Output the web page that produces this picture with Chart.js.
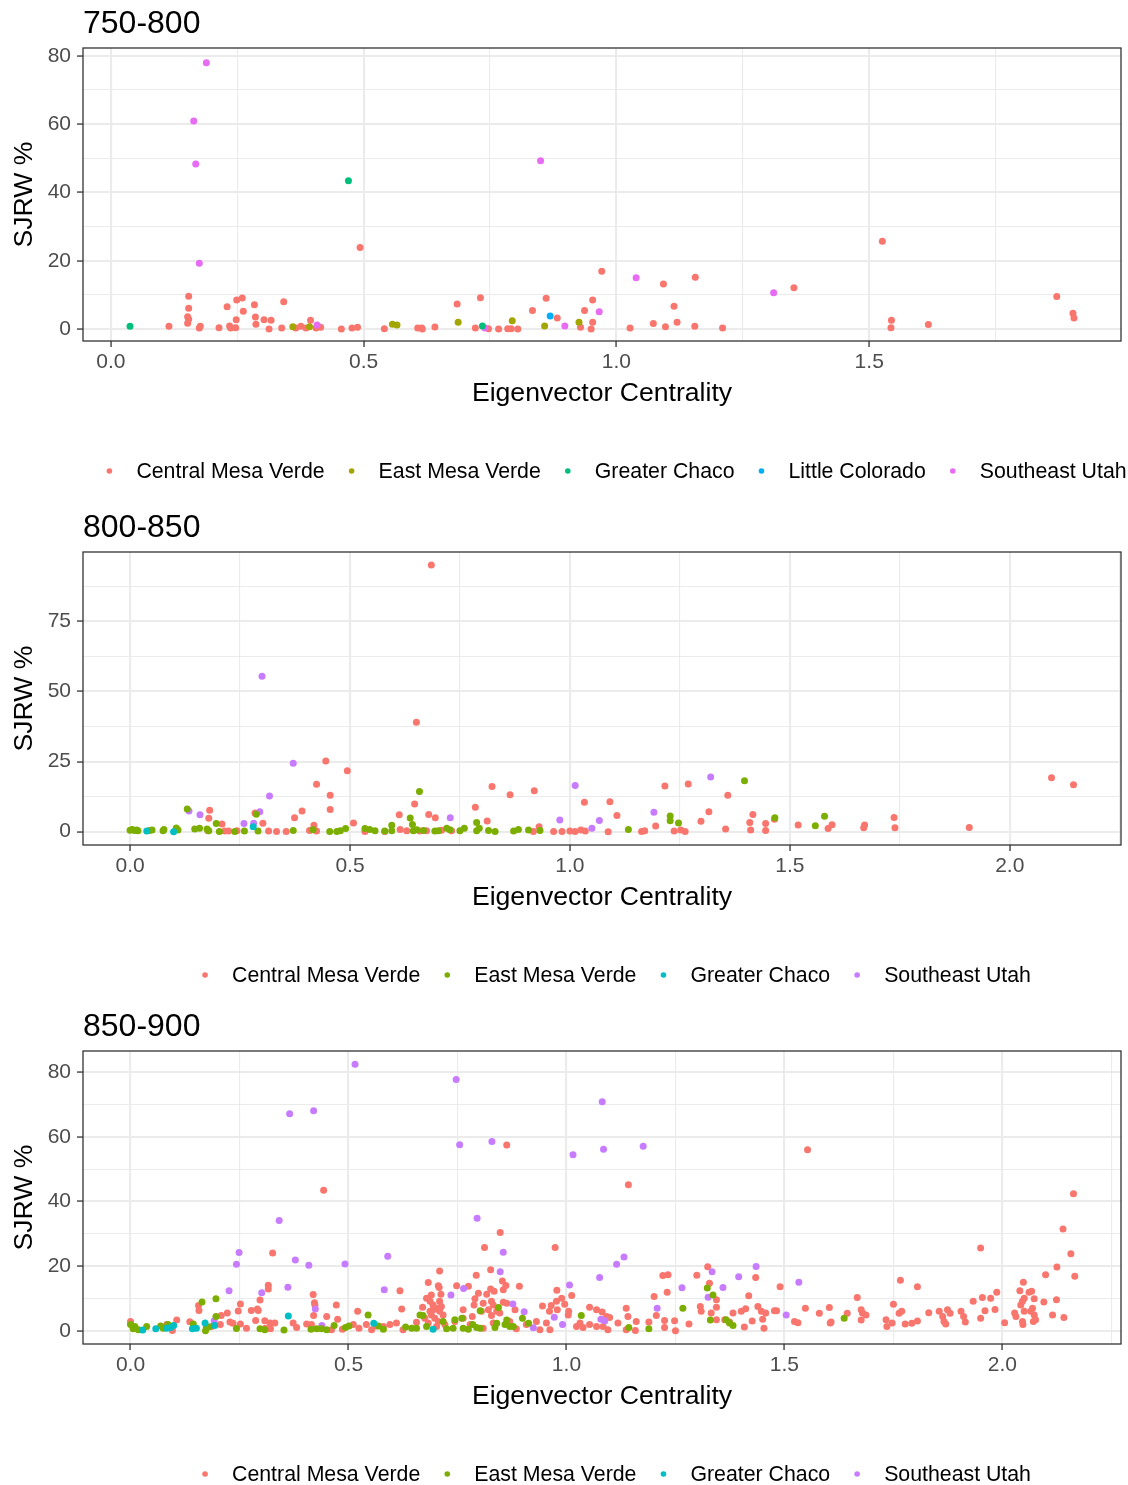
<!DOCTYPE html>
<html>
<head>
<meta charset="UTF-8">
<title>SJRW % by Eigenvector Centrality</title>
<script src="https://cdn.jsdelivr.net/npm/chart.js"></script>
<style>
body { margin: 0; background: #fff; }
.panel { position: absolute; left: 0; width: 1128px; height: 482px; }
</style>
</head>
<body>
<div class="panel" style="top:0px"><canvas id="c1" width="1128" height="482"></canvas></div>
<div class="panel" style="top:504px"><canvas id="c2" width="1128" height="482"></canvas></div>
<div class="panel" style="top:1003px"><canvas id="c3" width="1128" height="482"></canvas></div>
<script>
// ---- data: [eigenvector centrality, SJRW %] ----

// 750-800
const p1Central = [[0.493,23.9],[0.154,9.6],[0.154,6.1],[0.152,3.6],[0.154,2.9],[0.152,1.7],[0.115,0.8],[0.175,0.3],[0.177,0.8],[0.214,0.4],
  [0.230,6.5],[0.249,8.5],[0.260,9.1],[0.248,2.7],[0.235,0.9],[0.237,0.3],[0.247,0.4],[0.262,5.2],[0.284,7.1],[0.286,3.5],[0.287,1.4],
  [0.303,2.7],[0.317,2.6],[0.313,0.0],[0.342,8.0],[0.338,0.3],[0.366,0.3],[0.376,0.8],[0.386,0.3],[0.395,2.6],[0.406,0.3],[0.415,0.5],
  [0.456,0.0],[0.477,0.3],[0.488,0.5],[0.541,0.1],[0.607,0.3],[0.615,0.3],[0.616,0.0],[0.641,0.6],[0.685,7.3],[0.731,9.2],[0.721,0.3],
  [0.747,0.1],[0.767,0.0],[0.785,0.1],[0.792,0.1],[0.805,0.0],[0.834,5.4],[0.861,9.0],[0.883,3.2],[0.929,0.5],[0.937,5.4],[0.953,8.5],
  [0.953,2.0],[0.950,0.0],[0.971,16.9],[1.093,13.2],[1.156,15.2],[1.114,6.7],[1.027,0.3],[1.073,1.6],[1.097,0.7],[1.120,2.0],[1.155,0.8],
  [1.210,0.3],[1.351,12.1],[1.526,25.7],[1.544,2.6],[1.543,0.4],[1.617,1.3],[1.871,9.5],[1.903,4.6],[1.905,3.2]];
const p1East = [[0.360,0.7],[0.393,0.7],[0.557,1.4],[0.566,1.2],[0.687,2.0],[0.794,2.4],[0.858,0.9],[0.926,2.0]];
const p1Chaco = [[0.038,0.8],[0.470,43.4],[0.735,0.9]];
const p1Little = [[0.869,3.8]];
const p1Utah = [[0.189,78.0],[0.164,60.9],[0.168,48.3],[0.175,19.3],[0.850,49.3],[0.408,1.2],[0.740,0.3],[0.898,0.9],[0.966,5.1],
  [1.039,15.0],[1.311,10.6]];

// 800-850
const p2Central = [[0.685,95.1],[0.651,39.0],[0.445,25.2],[0.494,21.7],[0.424,16.9],[0.455,13.0],[0.455,7.9],[0.391,7.4],[0.374,5.0],
  [0.302,3.0],[0.284,6.7],[0.181,7.6],[0.179,4.8],[0.209,2.7],[0.418,2.3],[0.508,3.1],[0.647,9.9],[0.612,6.0],[0.679,6.1],[0.694,5.0],
  [0.785,8.7],[0.823,16.1],[0.864,13.2],[0.919,14.6],[0.812,3.8],[1.033,10.5],[0.930,1.8],[0.177,0.3],[0.215,0.2],[0.224,0.2],[0.243,0.3],
  [0.315,0.2],[0.333,0.1],[0.355,0.1],[0.408,0.4],[0.424,0.2],[0.534,0.1],[0.579,0.1],[0.614,0.8],[0.629,0.3],[0.659,0.2],[0.674,0.3],
  [0.708,0.5],[0.731,0.3],[0.917,0.1],[0.963,0.1],[0.982,0.1],[1.000,0.2],[1.012,0.1],[1.025,0.6],[1.035,0.2],[1.091,10.7],[1.107,5.8],
  [1.087,0.0],[1.163,0.1],[1.170,0.3],[1.195,2.0],[1.216,16.3],[1.237,0.2],[1.252,0.6],[1.262,0.1],[1.269,17.0],[1.316,7.1],[1.298,3.7],
  [1.359,13.0],[1.354,1.0],[1.416,6.1],[1.409,3.3],[1.411,0.6],[1.445,2.9],[1.445,0.4],[1.465,4.4],[1.519,2.4],[1.587,1.1],[1.596,2.5],
  [1.668,1.4],[1.670,2.4],[1.737,5.1],[1.739,1.4],[1.908,1.5],[2.095,19.2],[2.145,16.7]];
const p2East = [[0.130,8.1],[0.196,2.9],[0.287,6.2],[0.658,14.3],[0.637,4.9],[0.642,2.6],[0.595,2.3],[0.788,3.3],[1.133,0.8],[1.228,5.6],
  [1.228,3.9],[1.247,3.1],[1.397,18.2],[1.466,5.0],[1.558,2.1],[1.579,5.5],[0.000,0.5],[0.005,0.8],[0.010,0.4],[0.015,0.6],[0.018,0.3],
  [0.044,0.4],[0.050,0.6],[0.075,0.3],[0.077,0.8],[0.105,1.3],[0.109,0.6],[0.147,1.0],[0.158,1.2],[0.175,1.0],[0.179,0.3],[0.203,0.1],
  [0.238,0.1],[0.260,0.2],[0.291,0.2],[0.371,0.4],[0.416,0.7],[0.454,0.1],[0.470,0.1],[0.478,0.3],[0.490,1.1],[0.534,1.1],[0.545,0.8],
  [0.557,0.3],[0.579,0.2],[0.595,0.3],[0.644,0.3],[0.652,0.7],[0.667,0.4],[0.693,0.2],[0.701,0.3],[0.720,1.2],[0.727,0.7],[0.750,0.3],
  [0.760,1.2],[0.794,1.2],[0.788,0.3],[0.815,0.4],[0.830,0.1],[0.872,0.2],[0.883,0.8],[0.906,0.6],[0.932,0.4]];
const p2Chaco = [[0.038,0.2],[0.099,0.0],[0.280,1.8]];
const p2Utah = [[0.300,55.4],[0.371,24.4],[0.317,12.7],[0.295,7.1],[0.281,3.0],[0.259,2.9],[0.134,7.4],[0.159,6.0],[0.728,5.0],
  [1.012,16.5],[0.977,4.2],[1.067,4.0],[1.050,1.2],[1.191,6.9],[1.320,19.5]];

// 850-900
const p3Central = [[0.443,43.5],[0.326,24.1],[0.709,18.5],[0.316,14.1],[0.316,12.9],[0.683,14.9],[0.706,13.9],[0.708,13.4],[0.712,11.3],
  [0.618,12.4],[0.419,11.2],[0.422,8.7],[0.423,8.0],[0.420,4.7],[0.297,9.5],[0.291,6.7],[0.293,6.3],[0.277,6.3],[0.252,8.3],[0.247,6.1],
  [0.222,5.5],[0.208,4.7],[0.206,1.9],[0.156,7.8],[0.157,6.3],[0.136,2.8],[0.106,3.3],[0.000,2.9],[0.083,1.9],[0.096,0.1],[0.186,1.3],
  [0.228,2.7],[0.235,2.3],[0.252,2.1],[0.266,0.8],[0.287,3.2],[0.308,3.1],[0.320,2.4],[0.331,2.4],[0.309,0.8],[0.321,0.6],[0.373,2.4],
  [0.381,1.0],[0.404,2.1],[0.415,1.9],[0.450,4.4],[0.472,8.0],[0.475,3.6],[0.461,0.3],[0.521,6.0],[0.511,1.9],[0.524,0.8],[0.486,0.5],
  [0.541,1.9],[0.553,0.3],[0.564,1.5],[0.580,1.3],[0.595,1.9],[0.610,2.4],[0.622,6.7],[0.625,0.3],[0.656,2.6],[0.670,7.3],[0.679,10.1],
  [0.687,9.1],[0.694,8.0],[0.702,7.0],[0.709,6.0],[0.690,4.9],[0.698,3.9],[0.706,2.9],[0.683,2.4],[0.713,7.5],[0.717,4.9],[0.694,6.5],
  [0.675,3.9],[0.702,1.3],[0.687,6.0],[0.709,9.1],[0.690,11.1],[0.721,1.9],
  [0.748,13.9],[0.775,13.8],[0.798,11.6],[0.817,11.3],[0.826,12.9],[0.834,12.2],[0.855,12.7],[0.861,14.0],[0.853,15.4],[0.892,13.8],
  [0.790,9.9],[0.809,8.5],[0.828,9.1],[0.832,8.0],[0.855,8.8],[0.863,8.5],[0.788,8.0],[0.763,6.5],[0.805,6.0],[0.821,6.5],[0.840,6.0],
  [0.847,5.5],[0.828,4.7],[0.784,4.4],[0.744,2.9],[0.763,3.9],[0.779,1.9],[0.809,0.8],[0.832,2.4],[0.870,2.9],[0.882,6.5],[0.885,0.6],
  [0.908,1.9],[0.931,2.9],[0.954,2.4],[0.962,0.3],[0.939,0.3],[0.945,7.7],[0.965,7.8],[0.977,9.1],[0.989,10.1],[0.996,8.2],[0.979,6.5],
  [0.961,6.0],[1.005,6.0],[1.004,4.9],[1.012,10.9],[0.978,12.5],[1.053,7.3],[1.069,6.5],[1.082,5.8],[1.092,4.4],[1.099,4.1],[1.118,2.4],
  [1.137,7.0],[1.141,4.4],[1.137,0.3],[1.158,0.1],[1.160,2.9],[1.031,2.4],[1.023,1.3],[1.038,1.0],[1.053,1.9],[1.069,1.3],[1.084,1.3],
  [1.095,0.3],[1.201,10.6],[1.189,2.7],[1.206,4.7],[1.225,3.2],[1.225,1.0],[1.248,3.1],[1.250,0.0],[1.281,2.1],[1.221,17.1],[1.233,17.3],
  [1.231,11.9],[1.299,17.2],[1.324,19.8],[1.328,14.7],[1.307,7.5],[1.309,6.0],[1.344,9.6],[1.344,7.3],[1.332,5.5],[1.344,3.4],[1.363,3.4],
  [1.382,5.5],[1.374,2.7],[1.408,1.2],[1.401,6.0],[1.411,6.8],[1.418,10.8],[1.426,3.0],[1.434,16.5],[1.439,7.5],[1.447,6.0],[1.450,3.6],
  [1.453,0.8],[1.457,5.5],[1.477,6.2],[1.482,6.2],[1.490,13.6],[1.523,2.9],[1.531,2.5],[1.548,7.0],
  [0.863,57.5],[1.142,45.2],[0.848,30.4],[0.812,25.8],[0.974,25.8],[0.826,18.9],[0.793,17.2],[1.553,56.0],
  [1.580,5.4],[1.603,7.2],[1.607,2.7],[1.605,2.4],[1.644,5.4],[1.676,6.5],[1.679,5.5],[1.687,4.9],[1.676,3.3],[1.733,3.4],[1.735,1.3],
  [1.747,2.4],[1.750,8.2],[1.763,5.4],[1.769,6.0],[1.777,2.1],[1.792,2.3],[1.805,3.0],[1.831,5.6],[1.855,6.0],[1.863,4.4],[1.866,2.9],
  [1.870,2.1],[1.874,6.5],[1.880,5.4],[1.905,6.0],[1.911,4.4],[1.915,2.7],[1.933,9.1],[1.950,3.9],[1.954,10.3],[1.960,6.2],[1.973,10.1],
  [1.983,6.6],[1.987,11.9],[2.005,2.5],[2.028,5.5],[2.031,4.4],[2.040,12.4],[2.042,8.0],[2.046,9.1],[2.048,15.0],[2.050,10.1],[2.050,6.0],
  [2.061,11.9],[2.067,12.2],[2.073,9.9],[2.065,6.0],[2.069,7.0],[2.073,4.9],[2.076,3.4],[2.071,2.9],[2.046,2.9],[2.047,1.9],[2.095,8.9],
  [2.115,4.9],[2.124,9.6],[2.141,4.1],[2.163,42.4],[2.139,31.5],[2.157,23.8],[1.950,25.6],[2.125,19.7],[2.166,16.9],[2.099,17.3],
  [1.766,15.6],[1.805,13.6],[1.667,10.3]];
const p3East = [[0.000,1.9],[0.006,0.6],[0.018,0.3],[0.037,1.3],[0.010,1.3],[0.069,1.5],[0.086,1.9],[0.075,0.8],[0.164,8.9],[0.196,9.9],
  [0.196,4.4],[0.144,2.1],[0.174,1.0],[0.180,1.2],[0.172,0.0],[0.243,0.7],[0.297,0.6],[0.308,0.3],[0.352,0.2],[0.414,0.5],[0.427,0.6],
  [0.438,0.6],[0.450,0.3],[0.467,1.6],[0.493,1.0],[0.501,1.5],[0.545,4.9],[0.569,1.5],[0.580,0.5],[0.631,1.2],[0.645,0.8],[0.656,0.8],
  [0.679,1.3],[0.664,4.9],[0.671,4.7],[0.717,2.9],[0.725,0.6],[0.740,0.8],[0.744,3.4],[0.760,3.9],[0.763,0.8],[0.775,0.5],[0.785,1.9],
  [0.794,1.0],[0.802,0.8],[0.802,6.2],[0.836,1.0],[0.840,2.3],[0.844,7.2],[0.859,1.9],[0.863,3.3],[0.870,1.3],[0.878,1.3],[0.899,3.9],
  [0.913,2.3],[1.034,4.7],[1.143,1.0],[1.189,0.6],[1.267,7.0],[1.323,13.2],[1.336,11.1],[1.330,3.3],[1.366,3.4],[1.374,2.4],[1.382,1.6],
  [1.637,3.9]];
const p3Chaco = [[0.028,0.2],[0.058,0.6],[0.083,0.8],[0.092,1.0],[0.099,1.6],[0.142,0.6],[0.151,0.8],[0.171,2.4],[0.193,1.6],[0.362,4.6],
  [0.558,2.3],[0.694,0.5]];
const p3Utah = [[0.515,82.5],[0.365,67.2],[0.420,68.1],[0.341,34.1],[0.249,24.2],[0.243,20.6],[0.378,21.9],[0.409,20.3],[0.492,20.7],
  [0.590,23.1],[0.226,12.4],[0.301,11.8],[0.361,13.5],[0.582,12.7],[0.735,11.1],[0.424,6.7],[0.192,3.1],[0.439,1.6],[0.747,77.8],
  [0.755,57.6],[0.829,58.6],[1.015,54.5],[1.082,70.9],[1.085,56.2],[1.176,57.1],[0.795,34.8],[0.855,24.3],[1.115,20.6],[1.132,22.8],
  [0.848,18.3],[1.076,16.5],[0.764,13.1],[1.007,14.2],[1.265,13.3],[1.334,18.3],[1.359,13.4],[1.395,16.7],[1.435,19.9],[1.533,15.0],
  [1.325,10.4],[0.877,8.3],[0.903,5.9],[0.972,4.2],[0.991,1.9],[0.924,0.9],[1.079,3.6],[1.088,3.1],[1.208,7.0],[1.504,4.9]];

// ---- tick labels ----
const p1XLabels = ['0.0', '0.5', '1.0', '1.5'];
const p1YLabels = ['0', '20', '40', '60', '80'];
const p2XLabels = ['0.0', '0.5', '1.0', '1.5', '2.0'];
const p2YLabels = ['0', '25', '50', '75'];
const p3XLabels = ['0.0', '0.5', '1.0', '1.5', '2.0'];
const p3YLabels = ['0', '20', '40', '60', '80'];

const FONT = "'Liberation Sans', Arial, Helvetica, sans-serif";
const ORDER = { 'Central Mesa Verde': 5, 'Southeast Utah': 4, 'East Mesa Verde': 3, 'Greater Chaco': 2, 'Little Colorado': 1 };

// minor breaks halfway between majors (ggplot style), kept only inside the range
function withMinor(majors, lo, hi) {
  const step = majors[1] - majors[0];
  const out = [];
  for (let v = majors[0] - step / 2; v <= hi; v += step / 2) {
    if (v >= lo) out.push(+v.toFixed(6));
  }
  return out;
}

function makePanel(id, p) {
  const xMajor = p.xLabels.map(Number), yMajor = p.yLabels.map(Number);
  const isMajor = (list, v) => list.some(m => Math.abs(m - v) < 1e-6);

  const frame = {
    id: 'frame',
    afterDraw(chart) {
      const a = chart.chartArea, ctx = chart.ctx;
      ctx.save();
      ctx.strokeStyle = '#333333';
      ctx.lineWidth = 1.3;
      ctx.strokeRect(a.left, a.top, a.right - a.left, a.bottom - a.top);
      // panel title
      ctx.fillStyle = '#000';
      ctx.font = '32px ' + FONT;
      ctx.textBaseline = 'alphabetic';
      ctx.fillText(p.title, a.left, 33);
      // legend
      const sets = chart.data.datasets;
      ctx.font = '21.3px ' + FONT;
      ctx.textBaseline = 'middle';
      const gap = 27;
      const widths = sets.map(d => ctx.measureText(d.label).width);
      const total = widths.reduce((s, w) => s + w, 0) + gap * (2 * sets.length - 1);
      let x = 618 - total / 2;
      sets.forEach((d, i) => {
        ctx.fillStyle = d.backgroundColor;
        ctx.beginPath();
        ctx.arc(x, 471, 2.8, 0, Math.PI * 2);
        ctx.fill();
        ctx.fillStyle = '#000';
        ctx.fillText(d.label, x + gap, 472);
        x += gap + widths[i] + gap;
      });
      ctx.restore();
    }
  };

  const gridFor = (majors) => ({
    color: '#EBEBEB',
    lineWidth: c => isMajor(majors, c.tick.value) ? 2.1 : 1.1,
    tickLength: 6,
    tickColor: c => isMajor(majors, c.tick.value) ? '#333333' : 'rgba(0,0,0,0)',
    tickWidth: c => isMajor(majors, c.tick.value) ? 1.3 : 0
  });

  new Chart(document.getElementById(id), {
    type: 'scatter',
    data: {
      datasets: p.series.map(s => ({
        label: s.label,
        data: s.points.map(([x, y]) => ({ x, y })),
        backgroundColor: s.color,
        borderWidth: 0,
        pointRadius: 3.5,
        pointHoverRadius: 3.5,
        order: ORDER[s.label]
      }))
    },
    options: {
      responsive: false,
      animation: false,
      events: [],
      layout: { padding: { top: 48, right: 7, left: 0, bottom: 0 } },
      plugins: { legend: { display: false }, tooltip: { enabled: false } },
      scales: {
        x: {
          type: 'linear',
          min: p.xRange[0], max: p.xRange[1],
          afterBuildTicks: sc => {
            sc.ticks = withMinor(xMajor, p.xRange[0], p.xRange[1]).map(v => ({ value: v }));
          },
          afterFit: sc => { sc.height = 141; },
          border: { display: false },
          grid: gridFor(xMajor),
          ticks: {
            autoSkip: false, maxRotation: 0, padding: 3,
            color: '#4D4D4D', font: { family: FONT, size: 21 },
            callback: v => { const i = xMajor.findIndex(m => Math.abs(m - v) < 1e-6); return i < 0 ? '' : p.xLabels[i]; }
          },
          title: {
            display: true, text: 'Eigenvector Centrality', color: '#000',
            font: { family: FONT, size: 26.6 }, padding: { top: 0, bottom: 72 }
          }
        },
        y: {
          type: 'linear',
          min: p.yRange[0], max: p.yRange[1],
          afterBuildTicks: sc => {
            sc.ticks = withMinor(yMajor, p.yRange[0], p.yRange[1]).map(v => ({ value: v }));
          },
          afterFit: sc => { sc.width = 83; },
          border: { display: false },
          grid: gridFor(yMajor),
          ticks: {
            autoSkip: false, padding: 6,
            color: '#4D4D4D', font: { family: FONT, size: 21 },
            callback: v => { const i = yMajor.findIndex(m => Math.abs(m - v) < 1e-6); return i < 0 ? '' : p.yLabels[i]; }
          },
          title: {
            display: true, text: 'SJRW %', color: '#000',
            font: { family: FONT, size: 26.6 }, padding: { top: 9, bottom: 0 }
          }
        }
      }
    },
    plugins: [frame]
  });
}

makePanel('c1', {
  title: '750-800',
  xLabels: p1XLabels, yLabels: p1YLabels,
  xRange: [-0.055, 1.998], yRange: [-3.5, 82.3],
  series: [
    { label: 'Central Mesa Verde', color: '#F8766D', points: p1Central },
    { label: 'East Mesa Verde', color: '#A3A500', points: p1East },
    { label: 'Greater Chaco', color: '#00BF7D', points: p1Chaco },
    { label: 'Little Colorado', color: '#00B0F6', points: p1Little },
    { label: 'Southeast Utah', color: '#E76BF3', points: p1Utah }
  ]
});

makePanel('c2', {
  title: '800-850',
  xLabels: p2XLabels, yLabels: p2YLabels,
  xRange: [-0.107, 2.253], yRange: [-4.75, 99.75],
  series: [
    { label: 'Central Mesa Verde', color: '#F8766D', points: p2Central },
    { label: 'East Mesa Verde', color: '#7CAE00', points: p2East },
    { label: 'Greater Chaco', color: '#00BFC4', points: p2Chaco },
    { label: 'Southeast Utah', color: '#C77CFF', points: p2Utah }
  ]
});

makePanel('c3', {
  title: '850-900',
  xLabels: p3XLabels, yLabels: p3YLabels,
  xRange: [-0.109, 2.272], yRange: [-4.1, 86.6],
  series: [
    { label: 'Central Mesa Verde', color: '#F8766D', points: p3Central },
    { label: 'East Mesa Verde', color: '#7CAE00', points: p3East },
    { label: 'Greater Chaco', color: '#00BFC4', points: p3Chaco },
    { label: 'Southeast Utah', color: '#C77CFF', points: p3Utah }
  ]
});
</script>
</body>
</html>
